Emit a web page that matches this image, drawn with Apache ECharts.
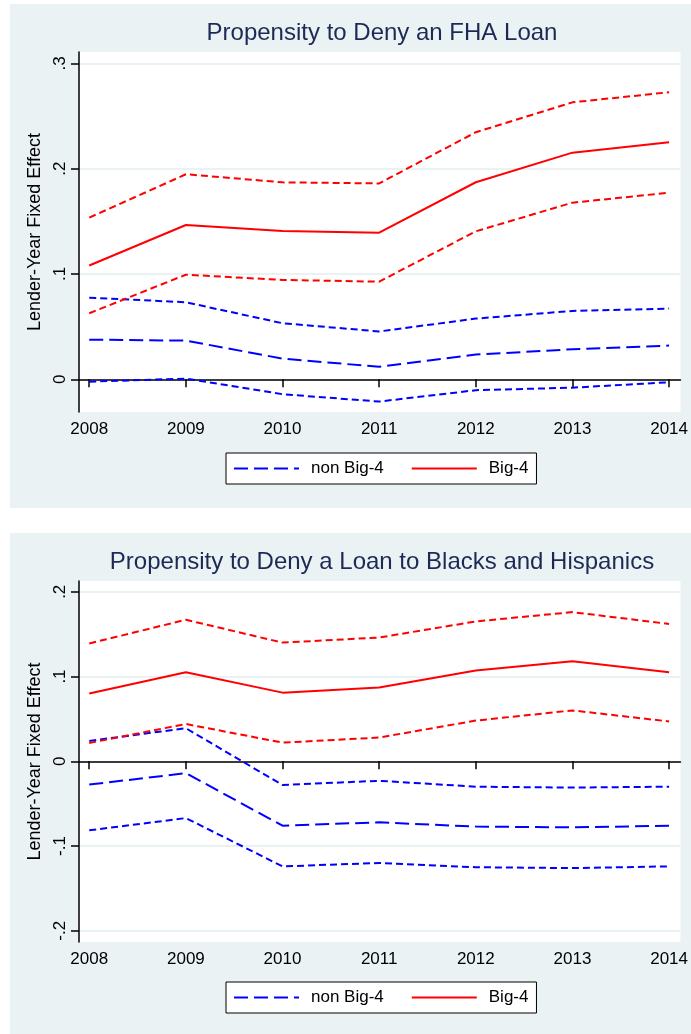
<!DOCTYPE html>
<html>
<head>
<meta charset="utf-8">
<script src="https://cdn.jsdelivr.net/npm/echarts@6/dist/echarts.min.js"></script>
<style>
  html, body { margin: 0; padding: 0; background: #fff; }
  #chart { width: 691px; height: 1034px; }
</style>
</head>
<body>
<div id="chart"></div>
<script>
// years on the x axis
var years = [2008, 2009, 2010, 2011, 2012, 2013, 2014];

// panel 1: propensity to deny an FHA loan
var fhaNonBig4   = [0.0376, 0.0367, 0.0196, 0.0118, 0.0234, 0.0285, 0.0320];
var fhaNonBig4Hi = [0.0775, 0.0731, 0.0532, 0.0454, 0.0576, 0.0649, 0.0671];
var fhaNonBig4Lo = [-0.0023, 0.0006, -0.0142, -0.0212, -0.0104, -0.0080, -0.0028];
var fhaBig4      = [0.1080, 0.1465, 0.1408, 0.1392, 0.1871, 0.2152, 0.2250];
var fhaBig4Hi    = [0.1535, 0.1947, 0.1870, 0.1860, 0.2346, 0.2630, 0.2726];
var fhaBig4Lo    = [0.0627, 0.0993, 0.0943, 0.0927, 0.1405, 0.1677, 0.1772];
var fhaTicks     = [0, 0.1, 0.2, 0.3];

// panel 2: propensity to deny a loan to blacks and hispanics
var minNonBig4   = [-0.0275, -0.0140, -0.0760, -0.0720, -0.0770, -0.0780, -0.0760];
var minNonBig4Hi = [0.0240, 0.0390, -0.0280, -0.0230, -0.0300, -0.0310, -0.0300];
var minNonBig4Lo = [-0.0814, -0.0670, -0.1240, -0.1200, -0.1250, -0.1260, -0.1240];
var minBig4      = [0.0800, 0.1050, 0.0810, 0.0870, 0.1070, 0.1180, 0.1050];
var minBig4Hi    = [0.1390, 0.1670, 0.1400, 0.1460, 0.1650, 0.1760, 0.1620];
var minBig4Lo    = [0.0216, 0.0440, 0.0220, 0.0280, 0.0480, 0.0600, 0.0470];
var minTicks     = [-0.2, -0.1, 0, 0.1, 0.2];

var legendNames = ['non Big-4', 'Big-4'];
var titles = ['Propensity to Deny an FHA Loan', 'Propensity to Deny a Loan to Blacks and Hispanics'];
var yName = 'Lender-Year Fixed Effect';

var FONT = '"Liberation Sans", Arial, sans-serif';
var BLUE = '#0000ff', RED = '#ff0000';
var BG = '#eaf2f3';
var LONG = [14, 6], SHORT = [7, 4];

function pairs(arr) {
    return years.map(function (y, i) { return [y, arr[i]]; });
}

function line(name, arr, color, dash, idx) {
    return {
        name: name,
        type: 'line',
        xAxisIndex: idx,
        yAxisIndex: idx,
        data: pairs(arr),
        symbol: 'none',
        lineStyle: { color: color, width: 2, type: dash },
        itemStyle: { color: color },
        silent: true
    };
}

function fmtY(v) {
    var s = (Math.round(v * 10) / 10).toString();
    return s.replace('0.', '.');
}

function xAxis(idx) {
    return {
        type: 'value',
        gridIndex: idx,
        min: 2007.894,
        max: 2014.118,
        axisLine: { show: true, lineStyle: { color: '#000', width: 1.5 } },
        axisTick: { show: true, length: 8, customValues: years, lineStyle: { color: '#000', width: 1.5 } },
        axisLabel: {
            customValues: years, margin: 9,
            fontFamily: FONT, fontSize: 17, color: '#000',
            formatter: function (v) { return String(v); }
        },
        splitLine: { show: false }
    };
}

function yAxis(idx, min, max, ticks) {
    return {
        type: 'value',
        gridIndex: idx,
        min: min,
        max: max,
        name: yName,
        nameLocation: 'middle',
        nameRotate: 90,
        nameGap: 28,
        nameTextStyle: { fontFamily: FONT, fontSize: 18, color: '#000' },
        axisLine: { show: true, lineStyle: { color: '#000', width: 1.5 } },
        axisTick: { show: true, length: 8, customValues: ticks, lineStyle: { color: '#000', width: 1.5 } },
        axisLabel: {
            customValues: ticks, rotate: 90, margin: 10,
            fontFamily: FONT, fontSize: 17, color: '#000',
            formatter: fmtY
        },
        splitLine: { show: true, lineStyle: { color: BG, width: 2 } }
    };
}

function legend(top) {
    return {
        data: legendNames,
        left: 226,
        top: top,
        orient: 'horizontal',
        itemWidth: 65,
        itemHeight: 14,
        itemGap: 27,
        padding: [7, 8, 7, 7],
        backgroundColor: '#fff',
        borderColor: '#000',
        borderWidth: 1,
        borderRadius: 0,
        selectedMode: false,
        // hide the marker dot, keep only the line sample
        itemStyle: { opacity: 0 },
        textStyle: { fontFamily: FONT, fontSize: 17, color: '#000', padding: [0, 0, 0, 7] }
    };
}

function titleText(text, y) {
    return {
        type: 'text',
        x: 382,
        y: y,
        z: 10,
        style: {
            text: text,
            x: 0, y: 0,
            align: 'center',
            verticalAlign: 'middle',
            font: '24px ' + FONT,
            fill: '#1c2a55'
        }
    };
}

var chart = echarts.init(document.getElementById('chart'));
chart.setOption({
    animation: false,
    backgroundColor: '#fff',
    graphic: [
        { type: 'rect', z: -100, shape: { x: 10, y: 4, width: 681, height: 504 }, style: { fill: BG } },
        { type: 'rect', z: -100, shape: { x: 10, y: 533, width: 681, height: 501 }, style: { fill: BG } },
        titleText(titles[0], 33),
        titleText(titles[1], 562)
    ],
    grid: [
        { left: 79, top: 52, width: 606, height: 360, show: true, backgroundColor: '#fff', borderWidth: 0 },
        { left: 79, top: 581, width: 606, height: 361, show: true, backgroundColor: '#fff', borderWidth: 0 }
    ],
    xAxis: [xAxis(0), xAxis(1)],
    yAxis: [
        yAxis(0, -0.0311, 0.3108, fhaTicks),
        yAxis(1, -0.2132, 0.2127, minTicks)
    ],
    legend: [legend(453), legend(982)],
    series: [
        line('non Big-4', fhaNonBig4, BLUE, LONG, 0),
        line('Big-4', fhaBig4, RED, 'solid', 0),
        line('non Big-4 upper', fhaNonBig4Hi, BLUE, SHORT, 0),
        line('non Big-4 lower', fhaNonBig4Lo, BLUE, SHORT, 0),
        line('Big-4 upper', fhaBig4Hi, RED, SHORT, 0),
        line('Big-4 lower', fhaBig4Lo, RED, SHORT, 0),
        line('non Big-4', minNonBig4, BLUE, LONG, 1),
        line('Big-4', minBig4, RED, 'solid', 1),
        line('non Big-4 upper', minNonBig4Hi, BLUE, SHORT, 1),
        line('non Big-4 lower', minNonBig4Lo, BLUE, SHORT, 1),
        line('Big-4 upper', minBig4Hi, RED, SHORT, 1),
        line('Big-4 lower', minBig4Lo, RED, SHORT, 1)
    ]
});
</script>
</body>
</html>
